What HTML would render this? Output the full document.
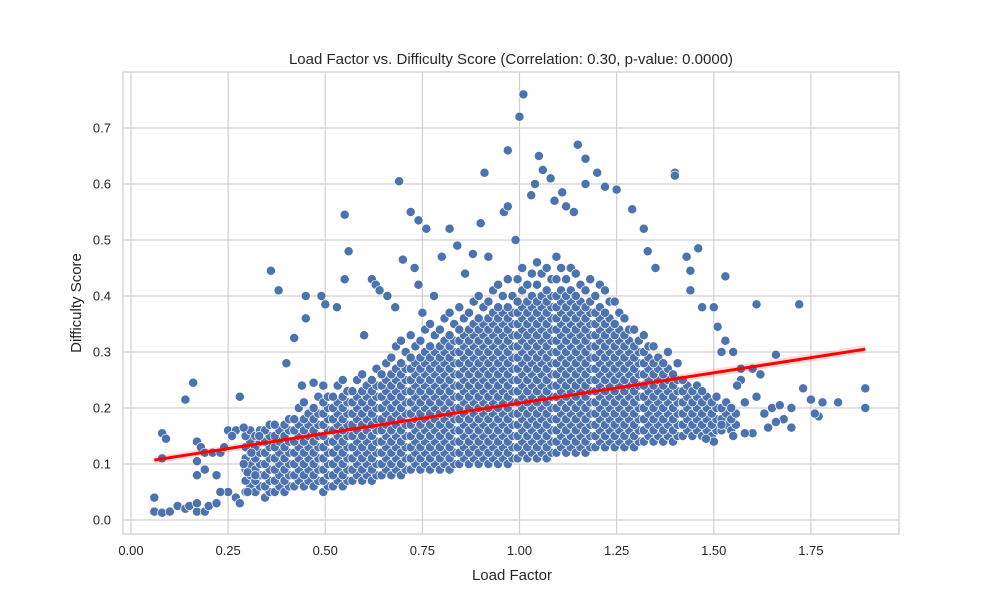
<!DOCTYPE html>
<html><head><meta charset="utf-8"><style>
body{margin:0;background:#fff;font-family:"Liberation Sans",sans-serif;}
svg text{font-family:"Liberation Sans",sans-serif;fill:#262626;}
</style></head><body>
<svg id="chart" width="1000" height="600" xmlns="http://www.w3.org/2000/svg">
<rect width="1000" height="600" fill="#fff"/>
<g id="grid"></g>
<g id="points"></g>
<g id="fit"></g>
<rect x="123" y="72" width="776" height="462" fill="none" stroke="#cccccc" stroke-width="1.2"/>
<g id="ticks"></g>
<text x="511" y="64" text-anchor="middle" font-size="15">Load Factor vs. Difficulty Score (Correlation: 0.30, p-value: 0.0000)</text>
<text x="512" y="580" text-anchor="middle" font-size="15">Load Factor</text>
<text x="0" y="0" transform="translate(81,303) rotate(-90)" text-anchor="middle" font-size="15">Difficulty Score</text>
</svg>
<script>
const xTicks=[0,0.25,0.5,0.75,1.0,1.25,1.5,1.75];
const xTickLabels=["0.00","0.25","0.50","0.75","1.00","1.25","1.50","1.75"];
const yTicks=[0,0.1,0.2,0.3,0.4,0.5,0.6,0.7];
const yTickLabels=["0.0","0.1","0.2","0.3","0.4","0.5","0.6","0.7"];
// dense columns: x value and y values (hundredths)
const colX=[0.300,0.325,0.350,0.375,0.400,0.425,0.450,0.475,0.500,0.525,0.550,0.575,0.600,0.625,0.650,0.675,0.700,0.725,0.750,0.775,0.800,0.825,0.850,0.875,0.900,0.925,0.950,0.975,1.000,1.025,1.050,1.075,1.100,1.125,1.150,1.175,1.200,1.225,1.250,1.275,1.300,1.325,1.350,1.375,1.400,1.425,1.450,1.475,1.500,1.525,1.550];
const colY=[
[5,6,7,8,9,10,11,12,13,14,15,16],
[5,6,7,8,9,10,11,12,13,14,15,16],
[4,5,6,7,8,9,10,11,12,13,14,15,16,17],
[5,6,7,8,9,10,11,12,13,14,15,16,17],
[5,6,7,8,9,10,11,12,13,14,15,16,17,18],
[6,7,8,9,10,11,12,13,14,15,16,17,18,20],
[6,7,8,9,10,11,12,13,14,15,16,17,18,19,21],
[6,7,8,9,10,11,12,13,14,15,16,17,18,19,20,22],
[5,6,7,8,9,10,11,12,13,14,15,16,17,18,19,20,21,22,24],
[6,7,8,9,10,11,12,13,14,15,16,17,18,19,20,21,22,24],
[6,7,8,9,10,11,12,13,14,15,16,17,18,19,20,21,22,23,25],
[7,8,9,10,11,12,13,14,15,16,17,18,19,20,21,22,23,25],
[7,8,9,10,11,12,13,14,15,16,17,18,19,20,21,22,23,24,26],
[7,8,9,10,11,12,13,14,15,16,17,18,19,20,21,22,23,24,25,27],
[8,9,10,11,12,13,14,15,16,17,18,19,20,21,22,23,24,25,26,28],
[8,9,10,11,12,13,14,15,16,17,18,19,20,21,22,23,24,25,26,27,29,31],
[8,9,10,11,12,13,14,15,16,17,18,19,20,21,22,23,24,25,26,27,28,30,32],
[9,10,11,12,13,14,15,16,17,18,19,20,21,22,23,24,25,26,27,28,29,31,33],
[9,10,11,12,13,14,15,16,17,18,19,20,21,22,23,24,25,26,27,28,29,30,32,34],
[9,10,11,12,13,14,15,16,17,18,19,20,21,22,23,24,25,26,27,28,29,30,31,33,35],
[9,10,11,12,13,14,15,16,17,18,19,20,21,22,23,24,25,26,27,28,29,30,31,32,34,36],
[9,10,11,12,13,14,15,16,17,18,19,20,21,22,23,24,25,26,27,28,29,30,31,32,33,35,37],
[10,11,12,13,14,15,16,17,18,19,20,21,22,23,24,25,26,27,28,29,30,31,32,33,34,36,38],
[10,11,12,13,14,15,16,17,18,19,20,21,22,23,24,25,26,27,28,29,30,31,32,33,34,35,37,39],
[10,11,12,13,14,15,16,17,18,19,20,21,22,23,24,25,26,27,28,29,30,31,32,33,34,35,36,38,40],
[10,11,12,13,14,15,16,17,18,19,20,21,22,23,24,25,26,27,28,29,30,31,32,33,34,35,36,37,39,41],
[10,11,12,13,14,15,16,17,18,19,20,21,22,23,24,25,26,27,28,29,30,31,32,33,34,35,36,37,38,40,42],
[10,11,12,13,14,15,16,17,18,19,20,21,22,23,24,25,26,27,28,29,30,31,32,33,34,35,36,37,38,40,43],
[11,12,13,14,15,16,17,18,19,20,21,22,23,24,25,26,27,28,29,30,31,32,33,34,35,36,37,38,39,41,43,45],
[11,12,13,14,15,16,17,18,19,20,21,22,23,24,25,26,27,28,29,30,31,32,33,34,35,36,37,38,39,40,42,44],
[11,12,13,14,15,16,17,18,19,20,21,22,23,24,25,26,27,28,29,30,31,32,33,34,35,36,37,38,39,40,42,44,46],
[11,12,13,14,15,16,17,18,19,20,21,22,23,24,25,26,27,28,29,30,31,32,33,34,35,36,37,38,39,40,41,43,45],
[12,13,14,15,16,17,18,19,20,21,22,23,24,25,26,27,28,29,30,31,32,33,34,35,36,37,38,39,40,41,43,45,47],
[12,13,14,15,16,17,18,19,20,21,22,23,24,25,26,27,28,29,30,31,32,33,34,35,36,37,38,39,40,41,43,45],
[12,13,14,15,16,17,18,19,20,21,22,23,24,25,26,27,28,29,30,31,32,33,34,35,36,37,38,39,40,42,44],
[12,13,14,15,16,17,18,19,20,21,22,23,24,25,26,27,28,29,30,31,32,33,34,35,36,37,38,39,41,43],
[13,14,15,16,17,18,19,20,21,22,23,24,25,26,27,28,29,30,31,32,33,34,35,36,37,38,40,42],
[13,14,15,16,17,18,19,20,21,22,23,24,25,26,27,28,29,30,31,32,33,34,35,36,37,39,41],
[13,14,15,16,17,18,19,20,21,22,23,24,25,26,27,28,29,30,31,32,33,34,35,37,39],
[13,14,15,16,17,18,19,20,21,22,23,24,25,26,27,28,29,30,31,32,33,34,36],
[13,14,15,16,17,18,19,20,21,22,23,24,25,26,27,28,29,30,31,32,34],
[14,15,16,17,18,19,20,21,22,23,24,25,26,27,28,29,30,31,33],
[14,15,16,17,18,19,20,21,22,23,24,25,26,27,28,29,31],
[14,15,16,17,18,19,20,21,22,23,24,25,26,27,28,30],
[14,15,16,17,18,19,20,21,22,23,24,25,26,28],
[15,16,17,18,19,20,21,22,23,24,25],
[15,16,17,18,19,20,21,22,23,24],
[15,16,17,18,19,20,21,22,23],
[15,16,17,18,19,20,21,22],
[16,17,18,19,20,21],
[16,17,18,19,20]];
// scattered points
const sparseX=[0.06,0.06,0.08,0.10,0.12,0.14,0.15,0.17,0.17,0.19,0.20,0.22,0.25,0.27,0.28,0.30,0.08,0.09,0.08,0.14,0.16,0.17,0.18,0.17,0.17,0.19,0.19,0.21,0.23,0.22,0.24,0.25,0.27,0.28,0.29,0.30,0.32,0.23,0.29,0.31,0.33,0.26,0.36,0.38,0.40,0.42,0.44,0.45,0.45,0.47,0.49,0.50,0.53,0.55,0.55,0.56,0.60,0.62,0.63,0.64,0.66,0.68,0.69,0.70,0.72,0.74,0.73,0.74,0.76,0.75,0.78,0.80,0.82,0.84,0.86,0.88,0.90,0.91,0.92,0.96,0.97,0.97,0.99,1.00,1.01,1.03,1.04,1.05,1.06,1.08,1.09,1.11,1.12,1.14,1.15,1.17,1.17,1.20,1.22,1.25,1.29,1.32,1.33,1.35,1.40,1.40,1.43,1.44,1.46,1.44,1.53,1.47,1.50,1.51,1.52,1.53,1.61,1.66,1.72,1.55,1.57,1.57,1.60,1.62,1.56,1.58,1.61,1.65,1.67,1.70,1.75,1.73,1.78,1.77,1.76,1.68,1.63,1.64,1.66,1.70,1.60,1.58,1.55,1.52,1.50,1.48,1.89,1.89,1.82];
const sparseY=[0.015,0.04,0.013,0.015,0.025,0.02,0.025,0.015,0.03,0.015,0.025,0.03,0.05,0.04,0.03,0.05,0.155,0.145,0.11,0.215,0.245,0.14,0.13,0.105,0.08,0.09,0.12,0.12,0.12,0.08,0.13,0.16,0.16,0.22,0.165,0.085,0.08,0.05,0.1,0.12,0.15,0.15,0.445,0.41,0.28,0.325,0.24,0.36,0.40,0.245,0.40,0.385,0.38,0.43,0.545,0.48,0.33,0.43,0.42,0.41,0.40,0.38,0.605,0.465,0.55,0.535,0.45,0.42,0.52,0.37,0.40,0.47,0.52,0.49,0.44,0.475,0.53,0.62,0.47,0.55,0.56,0.66,0.50,0.72,0.76,0.58,0.60,0.65,0.625,0.61,0.57,0.585,0.56,0.55,0.67,0.645,0.60,0.62,0.595,0.59,0.555,0.52,0.48,0.45,0.62,0.615,0.47,0.445,0.485,0.41,0.435,0.38,0.38,0.345,0.30,0.32,0.385,0.295,0.385,0.30,0.25,0.27,0.27,0.26,0.24,0.21,0.22,0.20,0.205,0.20,0.215,0.235,0.21,0.185,0.19,0.18,0.19,0.165,0.175,0.165,0.155,0.155,0.15,0.17,0.14,0.145,0.235,0.20,0.21];
const fitX=[0.06,1.89];
const fitY=[0.107,0.305];

const NS="http://www.w3.org/2000/svg";
const X=v=>131+v*388.5, Y=v=>520-v*560;
function mk(tag,attrs,parent){const e=document.createElementNS(NS,tag);for(const k in attrs)e.setAttribute(k,attrs[k]);parent.appendChild(e);return e;}
const grid=document.getElementById('grid'),ticks=document.getElementById('ticks'),pts=document.getElementById('points'),fit=document.getElementById('fit');
xTicks.forEach((t,i)=>{
  const l=mk('line',{x1:X(t),x2:X(t),y1:72,y2:534,stroke:'#d0d0d0','stroke-width':1.2},grid);
  
  
  const tx=mk('text',{x:X(t),y:555,'text-anchor':'middle','font-size':13},ticks);tx.textContent=xTickLabels[i];
  
  
});
yTicks.forEach((t,i)=>{
  const l=mk('line',{x1:123,x2:899,y1:Y(t),y2:Y(t),stroke:'#d0d0d0','stroke-width':1.2},grid);
  
  
  const tx=mk('text',{x:111,y:Y(t)+4.5,'text-anchor':'end','font-size':13},ticks);tx.textContent=yTickLabels[i];
  
  
});
function dot(x,y){
  const c=mk('circle',{cx:X(x).toFixed(1),cy:Y(y).toFixed(1),r:4.6,fill:'#4c72b0',stroke:'#fff','stroke-width':0.7},pts);
  
  
}
colX.forEach((x,i)=>colY[i].forEach((y,j)=>dot(x+((j%2)?0.007:-0.005),y/100)));
sparseX.forEach((x,i)=>dot(x,sparseY[i]));
const band=mk('polygon',{points:`${X(fitX[0])},${Y(fitY[0]+0.006)} ${X(fitX[1])},${Y(fitY[1]+0.007)} ${X(fitX[1])},${Y(fitY[1]-0.007)} ${X(fitX[0])},${Y(fitY[0]-0.006)}`,fill:'rgba(255,0,0,0.15)'},fit);


const ln=mk('line',{x1:X(fitX[0]),y1:Y(fitY[0]),x2:X(fitX[1]),y2:Y(fitY[1]),stroke:'#ff0000','stroke-width':3},fit);


</script>
</body></html>
